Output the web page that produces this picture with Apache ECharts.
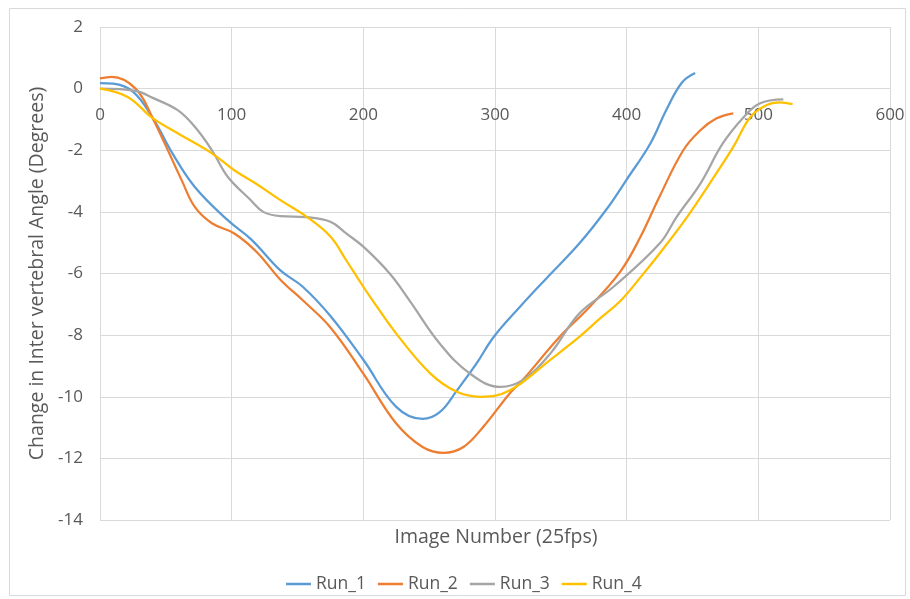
<!DOCTYPE html>
<html><head><meta charset="utf-8">
<script src="https://cdn.jsdelivr.net/npm/echarts@6/dist/echarts.min.js"></script>
<style>html,body{margin:0;padding:0;background:#fff}#c{width:910px;height:599px}</style>
</head><body><div id="c"></div>
<script>
const seriesNames = ['Run_1','Run_2','Run_3','Run_4'];
const xTicks = [0,100,200,300,400,500,600];
const yTicks = [-14,-12,-10,-8,-6,-4,-2,0,2];

const run1X = [0,10,25,40,55,72,97,115,137,154,175,200,225,245,258,271,286,299,319,339,364,385,400,418,430,442,452];
const run1Y = [0.18,0.16,-0.1,-0.95,-2.1,-3.19,-4.27,-4.9,-5.9,-6.43,-7.38,-8.8,-10.33,-10.72,-10.5,-9.8,-8.92,-8.06,-7.08,-6.16,-5.03,-3.9,-2.95,-1.78,-0.7,0.2,0.51];

const run2X = [0,9,27,40,62,72,85,102,119,137,154,175,200,225,245,261,276,291,311,321,349,372,395,410,425,443,456,468,481];
const run2Y = [0.33,0.38,0.0,-0.96,-2.97,-3.84,-4.37,-4.7,-5.3,-6.2,-6.87,-7.75,-9.25,-10.87,-11.63,-11.82,-11.63,-10.98,-9.9,-9.46,-8.06,-7.08,-5.95,-4.85,-3.5,-2.0,-1.35,-0.97,-0.8];

const run3X = [0,27,40,59,72,85,97,114,124,137,157,175,187,200,220,235,258,281,304,321,342,364,390,425,438,456,473,489,501,519];
const run3Y = [0.0,-0.07,-0.3,-0.7,-1.24,-2.0,-2.86,-3.6,-4.0,-4.14,-4.17,-4.32,-4.7,-5.13,-6.0,-6.87,-8.27,-9.25,-9.68,-9.46,-8.6,-7.3,-6.43,-5.03,-4.16,-3.08,-1.78,-0.92,-0.48,-0.35];

const run4X = [0,21,40,59,85,102,118,137,157,175,187,200,207,225,251,271,289,311,342,364,380,395,410,425,446,463,481,494,506,516,526];
const run4Y = [0.0,-0.27,-0.96,-1.45,-2.1,-2.65,-3.07,-3.62,-4.16,-4.8,-5.57,-6.43,-6.87,-7.95,-9.25,-9.84,-10.0,-9.8,-8.8,-8.06,-7.45,-6.9,-6.15,-5.35,-4.16,-3.08,-1.89,-0.92,-0.54,-0.45,-0.5];

const colors = ['#5B9BD5','#ED7D31','#A5A5A5','#FFC000'];
const xs = [run1X, run2X, run3X, run4X];
const ys = [run1Y, run2Y, run3Y, run4Y];
const FONT = "'Open Sans',Roboto,sans-serif";

const GRID_TOP = 27, GRID_BOTTOM = 79, H = 599;
const gridH = H - GRID_TOP - GRID_BOTTOM;
const yMin = yTicks[0], yMax = yTicks[yTicks.length-1];
const zeroOffset = -gridH * (0 - yMin) / (yMax - yMin);

const chart = echarts.init(document.getElementById('c'), null, {renderer:'canvas'});
chart.setOption({
  animation:false,
  textStyle:{fontFamily:FONT},
  grid:{left:100,right:20,top:GRID_TOP,bottom:GRID_BOTTOM,containLabel:false},
  graphic:[
    {type:'rect',shape:{x:9.5,y:8.5,width:896,height:587},style:{fill:'none',stroke:'#d9d9d9',lineWidth:1},silent:true},
    {type:'text',x:496,y:537,style:{text:'Image Number (25fps)',fill:'#595959',font:"19.5px "+FONT,align:'center',verticalAlign:'middle'}}
  ],
  legend:{
    data:seriesNames, top:570, left:281, icon:'rect', itemWidth:25, itemHeight:2.5, itemGap:12,
    textStyle:{color:'#595959',fontSize:17.5,fontFamily:FONT}
  },
  xAxis:{
    type:'value', min:xTicks[0], max:xTicks[xTicks.length-1], interval:100,
    offset: zeroOffset,
    axisLine:{show:true,onZero:false,lineStyle:{color:'#d9d9d9'}},
    axisTick:{show:false},
    axisLabel:{color:'#595959',fontSize:17,margin:18,fontFamily:FONT},
    splitLine:{show:true,lineStyle:{color:'#d9d9d9'}}
  },
  yAxis:{
    type:'value', min:yMin, max:yMax, interval:2,
    name:'Change in Inter vertebral Angle (Degrees)', nameLocation:'middle', nameGap:49, nameRotate:90,
    nameTextStyle:{color:'#595959',fontSize:19.5,fontFamily:FONT},
    axisLine:{show:false}, axisTick:{show:false},
    axisLabel:{color:'#595959',fontSize:17,margin:17,fontFamily:FONT},
    splitLine:{show:true,lineStyle:{color:'#d9d9d9'}}
  },
  series: seriesNames.map((n,i)=>({
    name:n, type:'line', smooth:0.4, showSymbol:false, symbol:'none',
    lineStyle:{color:colors[i],width:2.25}, itemStyle:{color:colors[i]},
    data: xs[i].map((x,j)=>[x, ys[i][j]])
  }))
});
</script></body></html>
